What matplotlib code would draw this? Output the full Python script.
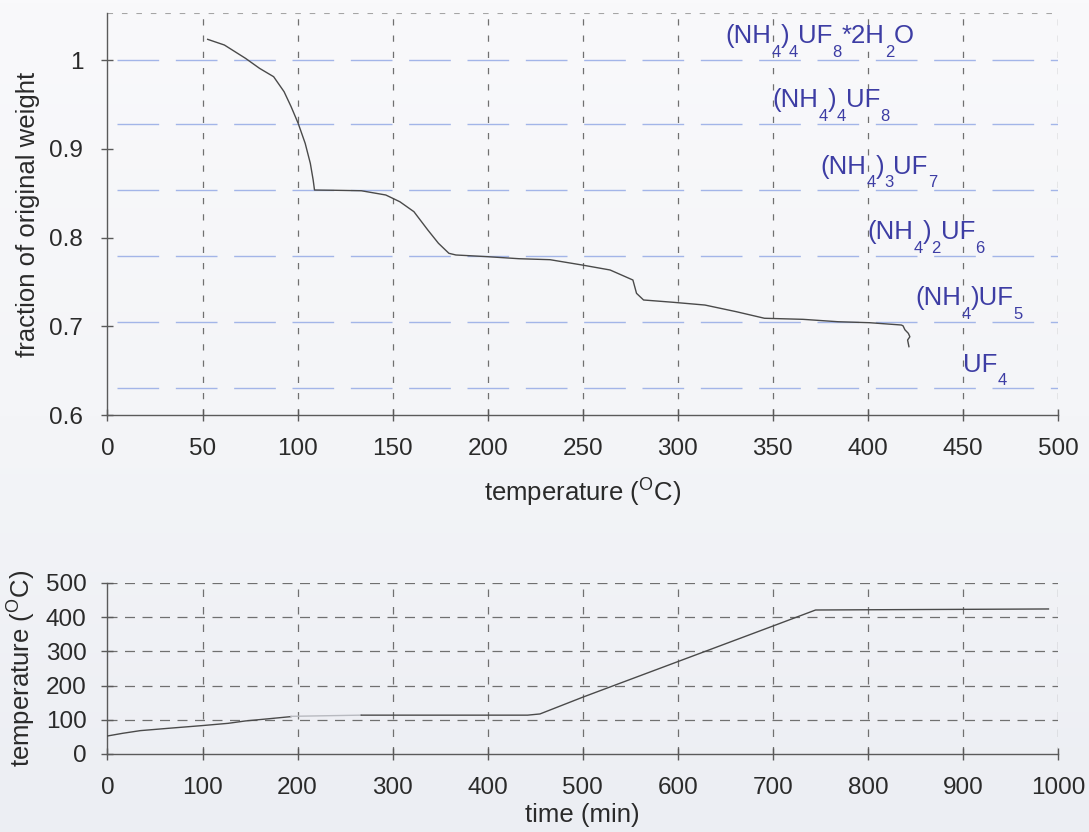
import re
import numpy as np
import matplotlib
matplotlib.use("Agg")
import matplotlib.pyplot as plt
from matplotlib.colors import LinearSegmentedColormap
from matplotlib.transforms import offset_copy

plt.rcParams["font.family"] = ["Liberation Sans", "DejaVu Sans"]
plt.rcParams["mathtext.fontset"] = "custom"
plt.rcParams["mathtext.rm"] = "Liberation Sans"
plt.rcParams["mathtext.it"] = "Liberation Sans:italic"
plt.rcParams["mathtext.bf"] = "Liberation Sans:bold"

# Thermogravimetric run: sample temperature (degC) vs fraction of original weight
tga_temp = [52.7, 61.5, 72.6, 80.0, 87.4, 92.9, 96.6, 100.3, 104.0, 106.7, 108.2, 108.9,
            120.0, 133.5, 146.4, 153.8, 161.2, 168.5, 174.1, 179.6, 183.3, 199.9, 216.5,
            232.8, 249.7, 264.4, 276.4, 278.3, 282.0, 297.6, 314.3, 330.8, 345.6, 365.9,
            384.3, 400.9, 417.6, 418.5, 419.5, 421.3, 422.1, 420.9, 421.6]
tga_frac = [1.0233, 1.0169, 1.0019, 0.9906, 0.9812, 0.9643, 0.9474, 0.9287, 0.9061, 0.8836,
            0.8648, 0.8535, 0.8532, 0.8527, 0.8479, 0.8403, 0.8291, 0.8085, 0.7935, 0.7822,
            0.7803, 0.7784, 0.7761, 0.7750, 0.7690, 0.7634, 0.7521, 0.7371, 0.7296, 0.7270,
            0.7239, 0.7164, 0.7090, 0.7078, 0.7051, 0.7040, 0.7014, 0.7005, 0.6960, 0.6920,
            0.6882, 0.6845, 0.6770]

# Theoretical weight fractions of the decomposition products
compounds = [r"(NH$_4$)$_4$UF$_8$*2H$_2$O", r"(NH$_4$)$_4$UF$_8$", r"(NH$_4$)$_3$UF$_7$",
             r"(NH$_4$)$_2$UF$_6$", r"(NH$_4$)UF$_5$", r"UF$_4$"]
compound_frac = [1.0, 0.928, 0.853, 0.779, 0.705, 0.630]
label_temp = [325, 350, 375, 400, 425, 450]

# Furnace program: time (min) vs temperature (degC)
prog_time = [0, 16, 34.5, 64, 99, 127, 145, 171, 193]
prog_temp = [52.6, 60.4, 68.2, 75.0, 82.8, 89.6, 96.5, 103.3, 109.2]
hold_time = [193, 267]
hold_temp = [110.0, 113.5]
ramp_time = [267, 442, 455, 500, 600, 700, 745, 990]
ramp_temp = [113.5, 113.5, 117, 166, 270, 374, 421, 424]

weight_ticks = [0.6, 0.7, 0.8, 0.9, 1]
temp_ticks = [0, 50, 100, 150, 200, 250, 300, 350, 400, 450, 500]
time_ticks = [0, 100, 200, 300, 400, 500, 600, 700, 800, 900, 1000]
prog_ticks = [0, 100, 200, 300, 400, 500]

ink = "#4a4a4a"
grid_c = "#707070"
level_c = "#a3b5e8"
label_c = "#3d3da4"
text_c = "#2a2a2a"

DPI = 100
fig = plt.figure(figsize=(10.89, 8.32), dpi=DPI)
# paper tone
bg = fig.add_axes([0, 0, 1, 1], zorder=-10)
cmap = LinearSegmentedColormap.from_list("paper", ["#f9f9fb", "#f4f5f8", "#eceef3"])
bg.imshow(np.linspace(0, 1, 256).reshape(-1, 1), aspect="auto", cmap=cmap,
          extent=[0, 1, 0, 1], origin="upper")
bg.set_axis_off()

ax1 = fig.add_axes([0.0987, 0.5012, 0.8728, 0.4832])
ax2 = fig.add_axes([0.0987, 0.0938, 0.8728, 0.2055])

for ax in (ax1, ax2):
    ax.patch.set_alpha(0)
    for s in ("top", "right"):
        ax.spines[s].set_visible(False)
    for s in ("left", "bottom"):
        ax.spines[s].set_color("#5a5a5a")
        ax.spines[s].set_linewidth(1.0)
    ax.tick_params(direction="inout", length=9, width=1.0, color="#5a5a5a",
                   labelsize=17.5, labelcolor=text_c)
    ax.tick_params(axis="x", pad=12)
ax1.tick_params(axis="y", pad=13)
ax2.tick_params(axis="y", pad=10.5)

# --- weight loss panel ---
ax1.set_xlim(0, 500)
ax1.set_ylim(0.6, 1.053)
ax1.set_xticks(temp_ticks)
ax1.set_yticks(weight_ticks)
ax1.set_yticklabels(["0.6", "0.7", "0.8", "0.9", "1"])
for t in temp_ticks[1:]:
    ax1.axvline(t, color=grid_c, lw=0.9, dashes=(5, 8), zorder=1)
ax1.axhline(1.053, color="#a5a5a5", lw=0.8, dashes=(5, 8), zorder=1)
for f in compound_frac:
    ax1.axhline(f, xmin=0.01, color=level_c, lw=1.0, dashes=(30, 12), zorder=1)
ax1.plot(tga_temp, tga_frac, color=ink, lw=1.0, zorder=3)
ax1.set_xlabel(r"temperature ($^{\mathrm{O}}$C)", fontsize=18.5, color=text_c, labelpad=12)
ax1.set_ylabel("fraction of original weight", fontsize=18.5, color=text_c, labelpad=7)

# formula labels: subscripts set low and small, piece by piece
renderer = fig.canvas.get_renderer()
main_size, sub_size, sub_drop = 18.5, 12.0, 10.0
for name, f, t in zip(compounds, compound_frac, label_temp):
    parts = re.split(r"\$_\{?(\w+)\}?\$", name)
    x_off = 0.0
    for i, piece in enumerate(parts):
        if not piece:
            continue
        is_sub = i % 2 == 1
        tr = offset_copy(ax1.transData, fig=fig, x=x_off,
                         y=-sub_drop if is_sub else 0.0, units="points")
        txt = ax1.text(t, f + 0.019, piece, transform=tr, color=label_c,
                       fontsize=sub_size if is_sub else main_size,
                       ha="left", va="baseline")
        x_off += txt.get_window_extent(renderer).width * 72.0 / DPI

# --- furnace program panel ---
ax2.set_xlim(0, 1000)
ax2.set_ylim(0, 500)
ax2.set_xticks(time_ticks)
ax2.set_yticks(prog_ticks)
for t in time_ticks[1:]:
    ax2.axvline(t, color=grid_c, lw=0.9, dashes=(6, 8), zorder=1)
for v in prog_ticks[1:]:
    ax2.axhline(v, color=grid_c, lw=0.9, dashes=(8, 6), zorder=1)
ax2.plot(prog_time, prog_temp, color=ink, lw=1.0, zorder=3)
ax2.plot(hold_time, hold_temp, color="#b8bac0", lw=1.0, zorder=3)
ax2.plot(ramp_time, ramp_temp, color=ink, lw=1.0, zorder=3)
ax2.set_xlabel("time (min)", fontsize=18.5, color=text_c, labelpad=3)
ax2.set_ylabel(r"temperature ($^{\mathrm{O}}$C)", fontsize=18.5, color=text_c, labelpad=6)

fig.savefig("out.png", dpi=DPI)
